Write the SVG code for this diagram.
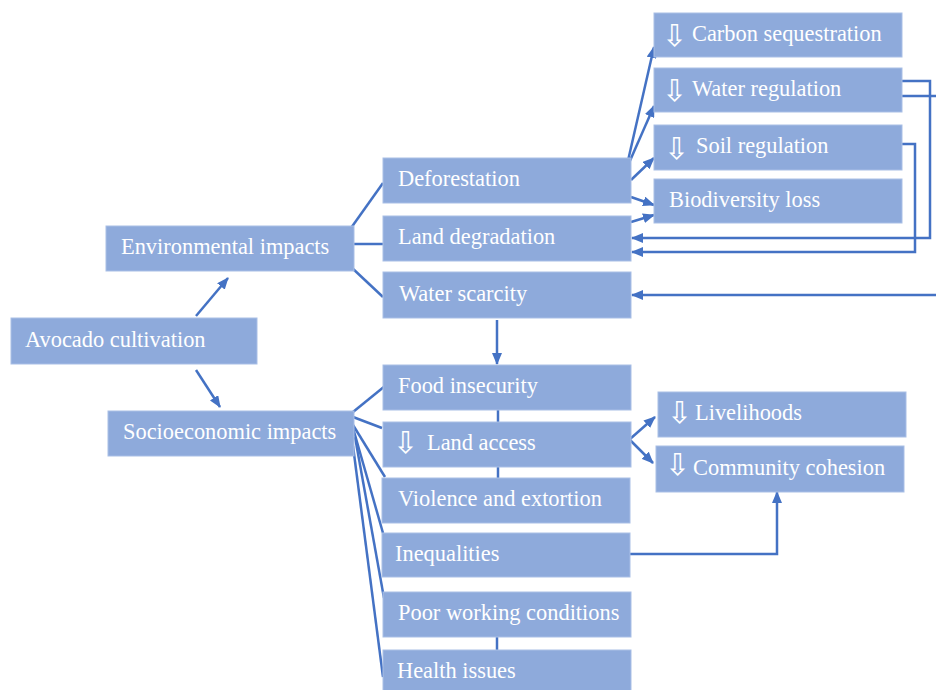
<svg xmlns="http://www.w3.org/2000/svg" width="936" height="690" viewBox="0 0 936 690">
<style>
.box{fill:#8EAADB;stroke:#A9BFE6;stroke-width:1}
.t{font-family:"Liberation Serif","Times New Roman",serif;font-size:22.4px;fill:#FFFFFF}
.g{font-family:"DejaVu Sans",sans-serif;font-size:30px}
.c{fill:none;stroke:#4472C4;stroke-width:2.5}
.a{marker-end:url(#ah)}
</style>
<defs>
<marker id="ah" markerUnits="userSpaceOnUse" markerWidth="12" markerHeight="10" refX="11" refY="5" orient="auto">
<path d="M0,0 L12,5 L0,10 z" fill="#4472C4"/>
</marker>
</defs>
<rect width="936" height="690" fill="#FFFFFF"/>
<g id="connectors">
<line class="c a" x1="196" y1="316" x2="228" y2="278"/>
<line class="c a" x1="196" y1="370" x2="220" y2="407"/>
<line class="c" x1="351" y1="228" x2="383" y2="183"/>
<line class="c" x1="354" y1="244" x2="383" y2="244"/>
<line class="c" x1="351" y1="267" x2="383" y2="297"/>
<line class="c a" x1="627" y1="165" x2="654" y2="47"/>
<line class="c a" x1="629" y1="163" x2="654" y2="106"/>
<line class="c a" x1="631" y1="180" x2="654" y2="158"/>
<line class="c a" x1="631" y1="197" x2="654" y2="205"/>
<line class="c a" x1="631" y1="222" x2="654" y2="215"/>
<path class="c a" d="M902,81 H930 V238 H632"/>
<path class="c a" d="M902,96 H945 V295 H632"/>
<path class="c a" d="M902,144 H915 V252 H632"/>
<line class="c a" x1="497" y1="320" x2="497" y2="364"/>
<line class="c" x1="498" y1="410" x2="498" y2="422"/>
<line class="c" x1="498" y1="467" x2="498" y2="478"/>
<line class="c" x1="497" y1="637" x2="497" y2="650"/>
<line class="c a" x1="630" y1="439" x2="655" y2="417"/>
<line class="c a" x1="630" y1="440" x2="653" y2="463"/>
<path class="c a" d="M630,554 H777 V492"/>
<line class="c" x1="353" y1="412" x2="385" y2="386"/>
<line class="c" x1="353" y1="417" x2="382" y2="428"/>
<line class="c" x1="353" y1="425" x2="385" y2="477"/>
<line class="c" x1="353" y1="428" x2="383" y2="533"/>
<line class="c" x1="355" y1="437" x2="384" y2="598"/>
<line class="c" x1="353" y1="446" x2="383" y2="677"/>
</g>
<g id="avocado"><rect class="box" x="11" y="318" width="246" height="46"/><text class="t" x="25" y="347">Avocado cultivation</text></g>
<g id="environmental"><rect class="box" x="106" y="226" width="248" height="45"/><text class="t" x="121" y="254">Environmental impacts</text></g>
<g id="socioeconomic"><rect class="box" x="108" y="411" width="246" height="45"/><text class="t" x="123" y="439">Socioeconomic impacts</text></g>
<g id="deforestation"><rect class="box" x="383" y="158" width="248" height="45"/><text class="t" x="398" y="186">Deforestation</text></g>
<g id="land-degradation"><rect class="box" x="383" y="216" width="248" height="45"/><text class="t" x="398" y="244">Land degradation</text></g>
<g id="water-scarcity"><rect class="box" x="383" y="272" width="248" height="46"/><text class="t" x="399" y="300.5">Water scarcity</text></g>
<g id="carbon"><rect class="box" x="654" y="13" width="248" height="44"/><text class="t"><tspan class="g" x="662" y="46">⇩</tspan><tspan x="692" y="41">Carbon sequestration</tspan></text></g>
<g id="water-regulation"><rect class="box" x="654" y="68" width="248" height="44"/><text class="t"><tspan class="g" x="662" y="101">⇩</tspan><tspan x="692" y="96">Water regulation</tspan></text></g>
<g id="soil-regulation"><rect class="box" x="654" y="125" width="248" height="45"/><text class="t"><tspan class="g" x="664" y="159">⇩</tspan><tspan x="696" y="153">Soil regulation</tspan></text></g>
<g id="biodiversity"><rect class="box" x="654" y="179" width="248" height="44"/><text class="t" x="669" y="207">Biodiversity loss</text></g>
<g id="food-insecurity"><rect class="box" x="383" y="365" width="248" height="45"/><text class="t" x="398" y="393">Food insecurity</text></g>
<g id="land-access"><rect class="box" x="383" y="422" width="248" height="45"/><text class="t"><tspan class="g" x="393" y="453">⇩</tspan><tspan x="427" y="450">Land access</tspan></text></g>
<g id="violence"><rect class="box" x="382" y="478" width="248" height="45"/><text class="t" x="398" y="506">Violence and extortion</text></g>
<g id="inequalities"><rect class="box" x="382" y="533" width="248" height="44"/><text class="t" x="395" y="561">Inequalities</text></g>
<g id="poor-working"><rect class="box" x="383" y="592" width="248" height="45"/><text class="t" x="398" y="620">Poor working conditions</text></g>
<g id="health"><rect class="box" x="383" y="650" width="248" height="45"/><text class="t" x="397" y="678">Health issues</text></g>
<g id="livelihoods"><rect class="box" x="658" y="392" width="248" height="45"/><text class="t"><tspan class="g" x="667" y="423">⇩</tspan><tspan x="695" y="420">Livelihoods</tspan></text></g>
<g id="community"><rect class="box" x="656" y="446" width="248" height="46"/><text class="t"><tspan class="g" x="665" y="475">⇩</tspan><tspan x="693" y="475">Community cohesion</tspan></text></g>
</svg>
